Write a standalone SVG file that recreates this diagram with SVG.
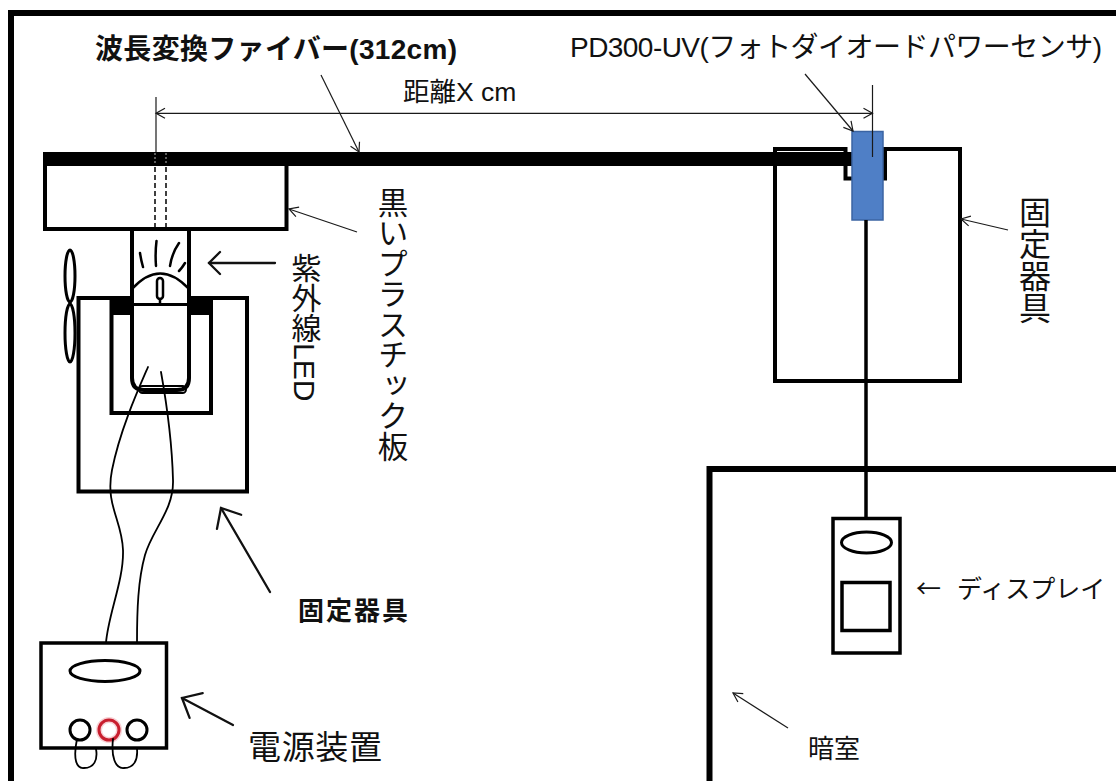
<svg xmlns="http://www.w3.org/2000/svg" width="1116" height="781" viewBox="0 0 1116 781">
  <defs>
    <style>
      .frame{fill:none;stroke:#000;stroke-width:6}
      .box{fill:#fff;stroke:#000;stroke-width:4}
      .ol{fill:none;stroke:#000;stroke-width:4}
      .ln{fill:none;stroke:#000;stroke-linecap:round;stroke-linejoin:round}
      .thin{fill:none;stroke:#1a1a1a;stroke-width:1.2}
      .ptr{fill:none;stroke:#111;stroke-width:2.3;stroke-linecap:round}
      .wire{fill:none;stroke:#000;stroke-width:1.8;stroke-linecap:round}
      .t{font-family:'Liberation Sans','Noto Sans CJK JP',sans-serif;fill:#111}
      .cjk{font-family:'Noto Sans CJK JP',sans-serif}
      .v{writing-mode:vertical-rl}
    </style>
    <marker id="tipThin" markerUnits="userSpaceOnUse" viewBox="-12 -8 14 16" markerWidth="14" markerHeight="16" refX="0" refY="0" orient="auto-start-reverse">
      <path d="M-9,-5 L0,0 L-9,5" fill="none" stroke="#1a1a1a" stroke-width="1.2"/>
    </marker>
    <marker id="tipMid" markerUnits="userSpaceOnUse" viewBox="-14 -14 18 28" markerWidth="18" markerHeight="28" refX="0" refY="0" orient="auto">
      <path d="M-11,-11 L0,0 L-11,11" fill="none" stroke="#111" stroke-width="2.3" stroke-linecap="round"/>
    </marker>
    <marker id="tipBig" markerUnits="userSpaceOnUse" viewBox="-20 -18 24 36" markerWidth="24" markerHeight="36" refX="0" refY="0" orient="auto">
      <path d="M-16,-14 L0,0 L-16,14" fill="none" stroke="#111" stroke-width="2.3" stroke-linecap="round"/>
    </marker>
  </defs>

  <rect width="1116" height="781" fill="#fff"/>

  <!-- enclosure walls -->
  <g id="outer-frame">
    <path class="frame" d="M11,781 V13 H1116"/>
  </g>
  <g id="darkroom">
    <path class="frame" d="M709.5,781 V469 H1116"/>
  </g>

  <!-- black plastic plate with the fiber lying on it -->
  <g id="plate">
    <rect class="box" x="45" y="164" width="241.5" height="65"/>
    <path d="M155,167 V229 M166,167 V229" fill="none" stroke="#000" stroke-width="1.5" stroke-dasharray="5 3"/>
  </g>
  <g id="fiber">
    <rect x="43" y="152" width="830" height="14" fill="#000"/>
    <path d="M155,153 V165 M166,153 V165" fill="none" stroke="#fff" stroke-width="1.2" stroke-dasharray="2 2" opacity="0.6"/>
  </g>

  <!-- UV LED holder -->
  <g id="led-fixture">
    <path class="ol" d="M110,298 H78.5 V491.5 H247 V298 H212"/>
    <path class="ol" d="M111.5,297 V413 H211 V297"/>
    <rect x="110" y="296" width="22" height="19" fill="#000"/>
    <rect x="188.5" y="296" width="24" height="19" fill="#000"/>
    <ellipse class="ln" cx="70" cy="276" rx="5" ry="26" stroke-width="3"/>
    <ellipse class="ln" cx="70" cy="333" rx="5" ry="29" stroke-width="3"/>
  </g>
  <g id="uv-led">
    <path class="ln" stroke-width="4" d="M132,229 V378 Q132,390 144,390 H177 Q189,390 189,378 V229"/>
    <line class="ln" x1="132" y1="304.5" x2="189" y2="304.5" stroke-width="3"/>
    <path class="ln" stroke-width="2.5" d="M132,289 Q160,258 189,289"/>
    <rect class="ln" x="157" y="278" width="6" height="21" rx="3" stroke-width="2.5"/>
    <line class="ln" x1="160" y1="299" x2="160" y2="304" stroke-width="2.5"/>
    <rect class="ln" x="139" y="386" width="47" height="7" rx="3.5" stroke-width="2"/>
    <path class="ln" stroke-width="2.5" d="M140,253 Q141,260 143,267 M156.5,241 Q155,253 156,266 M179,243 Q172,253 170,266 M185,263 Q182,268 179,271"/>
  </g>

  <!-- power supply -->
  <g id="power-supply">
    <rect x="41" y="643" width="125.5" height="105" fill="#fff" stroke="#000" stroke-width="3.5"/>
    <ellipse class="ln" cx="105" cy="671" rx="35" ry="10.5" stroke-width="3"/>
    <circle class="ln" cx="80" cy="730" r="10" stroke-width="3"/>
    <circle cx="109" cy="730" r="10" fill="none" stroke="#f2b0b8" stroke-width="6" opacity="0.6"/>
    <circle cx="109" cy="730" r="10" fill="none" stroke="#c81e2e" stroke-width="3"/>
    <circle class="ln" cx="137" cy="730" r="10" stroke-width="3"/>
    <path class="wire" d="M77,739 C73,758 76,769 84,768 C94,768 98,760 96,749"/>
    <path class="wire" d="M113,739 C111,756 115,769 124,768 C134,768 138,760 137,749"/>
  </g>

  <!-- LED leads down to the supply -->
  <g id="leads">
    <path class="wire" d="M148,367 C138,390 120,430 112,470 C105,505 122,520 123,550 C124,580 108,615 106,643"/>
    <path class="wire" d="M161,372 C166,400 172,440 173,480 C174,510 152,530 145,555 C138,580 137,610 137,643"/>
  </g>

  <!-- sensor holder with notch -->
  <g id="sensor-fixture">
    <path fill="#fff" stroke="#000" stroke-width="4" d="M775,381 V149 H845.5 V178.5 H885 V149 H960 V381 Z"/>
  </g>
  <g id="fiber-end">
    <rect x="770" y="152" width="103" height="14" fill="#000"/>
  </g>
  <g id="pd300">
    <rect x="852" y="131.5" width="31" height="88.5" fill="#4f7fc6" stroke="#3b64a3" stroke-width="1.5"/>
  </g>

  <!-- display unit -->
  <g id="display">
    <line x1="866" y1="220" x2="866" y2="518" stroke="#000" stroke-width="3.5"/>
    <rect x="833" y="518.5" width="67" height="134.5" fill="#fff" stroke="#000" stroke-width="3.5"/>
    <ellipse class="ln" cx="866.5" cy="542.5" rx="25" ry="10.5" stroke-width="3"/>
    <rect x="842" y="582.5" width="48" height="48" fill="#fff" stroke="#000" stroke-width="3.5"/>
  </g>

  <!-- leader and dimension lines -->
  <g id="connectors">
    <line class="thin" x1="156" y1="97" x2="156" y2="152"/>
    <line class="thin" x1="872.5" y1="85" x2="872.5" y2="157"/>
    <line class="thin" x1="156" y1="113.3" x2="872.5" y2="113.3" marker-start="url(#tipThin)" marker-end="url(#tipThin)"/>
    <line class="thin" x1="321" y1="75" x2="359" y2="152" marker-end="url(#tipThin)"/>
    <line class="thin" x1="805" y1="74" x2="853" y2="131" marker-end="url(#tipThin)"/>
    <line class="thin" x1="357" y1="232" x2="289" y2="209" marker-end="url(#tipThin)"/>
    <line class="thin" x1="1008" y1="230" x2="961" y2="219" marker-end="url(#tipThin)" stroke-width="1.5"/>
    <line class="thin" x1="788" y1="728" x2="733" y2="693" marker-end="url(#tipThin)"/>
    <line class="ptr" x1="275" y1="263" x2="209" y2="263" marker-end="url(#tipMid)"/>
    <line class="ptr" x1="270" y1="592" x2="221" y2="508" marker-end="url(#tipBig)"/>
    <line class="ptr" x1="233" y1="725" x2="182" y2="698" marker-end="url(#tipBig)"/>
  </g>

  <!-- labels -->
  <g id="labels">
    <text class="t" x="95" y="59" font-size="28" font-weight="bold" textLength="362">波長変換ファイバー(312cm)</text>
    <text class="t" x="570" y="57" font-size="28" textLength="532">PD300-UV(フォトダイオードパワーセンサ)</text>
    <text class="t" x="403" y="101" font-size="26.5">距離X cm</text>
    <text class="t v" x="391" y="187" font-size="30.5">黒いプラスチック板</text>
    <text class="t v" x="304" y="253" font-size="30">紫外線LED</text>
    <text class="t v" x="1032" y="196" font-size="32">固定器具</text>
    <text class="t" x="298" y="620" font-size="26" font-weight="bold" textLength="110">固定器具</text>
    <text class="t" x="248" y="759" font-size="33" textLength="134">電源装置</text>
    <text class="t" x="916" y="598" font-size="25"><tspan class="cjk">←</tspan><tspan x="957">ディスプレイ</tspan></text>
    <text class="t" x="808" y="758" font-size="26">暗室</text>
  </g>
</svg>
